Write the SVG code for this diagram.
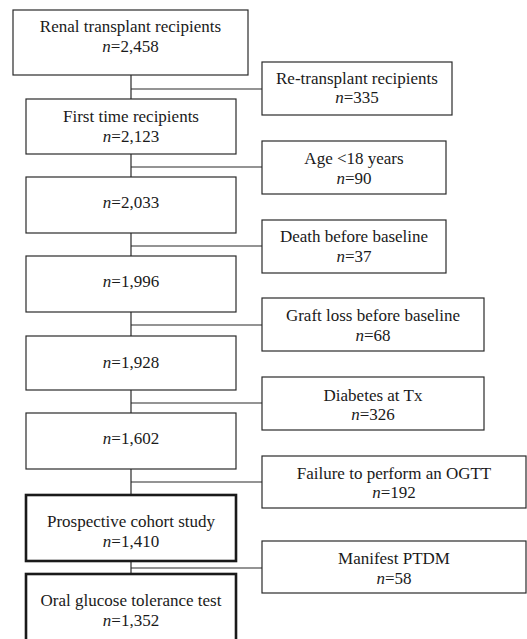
<svg xmlns="http://www.w3.org/2000/svg" width="527" height="639" viewBox="0 0 527 639">
<style>
.box{fill:#fff;stroke:#2a2a2a;stroke-width:1.2}
.thick{fill:#fff;stroke:#1a1a1a;stroke-width:2.6}
.ln{fill:none;stroke:#2a2a2a;stroke-width:1.2}
text{font-family:"Liberation Serif","Times New Roman",serif;font-size:17px;fill:#1a1a1a;text-anchor:middle}
.i{font-style:italic}
</style>
<rect width="527" height="639" fill="#fff"/>
<g id="connectors">
<path class="ln" d="M131,75V99M131,154V177M131,233V256M131,312V336M131,390V413M131,469V495M131,561V574"/>
<path class="ln" d="M131,89H262M131,167H262M131,246H262M131,325H262M131,403H262M131,482H262M131,568H262"/>
</g>
<g id="n1"><rect class="box" x="13" y="10" width="235" height="65"/><text x="130.5" y="32">Renal transplant recipients</text><text x="130.5" y="52"><tspan class="i">n</tspan>=2,458</text></g>
<g id="n2"><rect class="box" x="262" y="62" width="190" height="53"/><text x="357" y="84">Re-transplant recipients</text><text x="357" y="103"><tspan class="i">n</tspan>=335</text></g>
<g id="n3"><rect class="box" x="26" y="99" width="210" height="55"/><text x="131" y="122">First time recipients</text><text x="131" y="142"><tspan class="i">n</tspan>=2,123</text></g>
<g id="n4"><rect class="box" x="262" y="141" width="184" height="53"/><text x="354" y="164">Age &lt;18 years</text><text x="354" y="184"><tspan class="i">n</tspan>=90</text></g>
<g id="n5"><rect class="box" x="26" y="177" width="210" height="56"/><text x="131" y="208"><tspan class="i">n</tspan>=2,033</text></g>
<g id="n6"><rect class="box" x="262" y="220" width="184" height="53"/><text x="354" y="242">Death before baseline</text><text x="354" y="262"><tspan class="i">n</tspan>=37</text></g>
<g id="n7"><rect class="box" x="26" y="256" width="210" height="56"/><text x="131" y="287"><tspan class="i">n</tspan>=1,996</text></g>
<g id="n8"><rect class="box" x="262" y="298" width="222" height="53"/><text x="373" y="321">Graft loss before baseline</text><text x="373" y="341"><tspan class="i">n</tspan>=68</text></g>
<g id="n9"><rect class="box" x="26" y="336" width="210" height="54"/><text x="131" y="368"><tspan class="i">n</tspan>=1,928</text></g>
<g id="n10"><rect class="box" x="262" y="377" width="222" height="53"/><text x="373" y="401">Diabetes at Tx</text><text x="373" y="420"><tspan class="i">n</tspan>=326</text></g>
<g id="n11"><rect class="box" x="26" y="413" width="210" height="56"/><text x="131" y="444"><tspan class="i">n</tspan>=1,602</text></g>
<g id="n12"><rect class="box" x="262" y="456" width="264" height="52"/><text x="394" y="479">Failure to perform an OGTT</text><text x="394" y="498"><tspan class="i">n</tspan>=192</text></g>
<g id="n13"><rect class="thick" x="26" y="495" width="210" height="66"/><text x="131" y="527">Prospective cohort study</text><text x="131" y="547"><tspan class="i">n</tspan>=1,410</text></g>
<g id="n14"><rect class="box" x="262" y="541" width="264" height="52"/><text x="394" y="564">Manifest PTDM</text><text x="394" y="584"><tspan class="i">n</tspan>=58</text></g>
<g id="n15"><rect class="thick" x="26" y="574" width="210" height="75"/><text x="131" y="606">Oral glucose tolerance test</text><text x="131" y="626"><tspan class="i">n</tspan>=1,352</text></g>
</svg>
